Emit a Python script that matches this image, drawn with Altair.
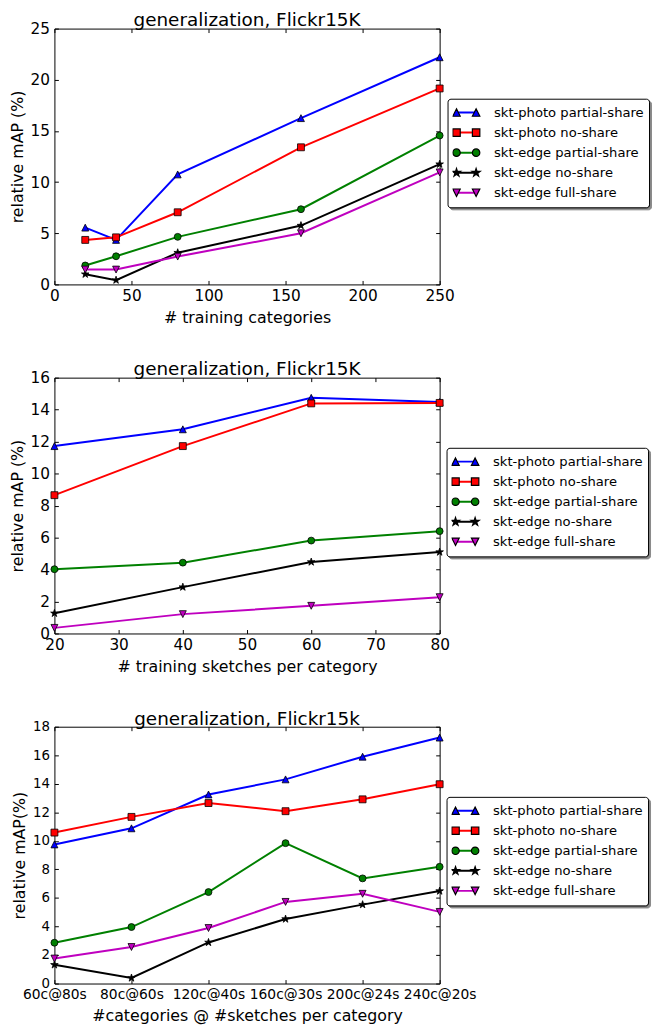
import altair as alt
import pandas as pd

FONT = "DejaVu Sans"

SERIES = ["skt-photo partial-share", "skt-photo no-share", "skt-edge partial-share",
          "skt-edge no-share", "skt-edge full-share"]
COLORS = ["#0000ff", "#ff0000", "#008000", "#000000", "#bf00bf"]

# ---- panel 1 ----
P1_TITLE = "generalization, Flickr15K"
P1_XTITLE = "# training categories"
P1_YTITLE = "relative mAP (%)"
P1_X = [20, 40, 80, 160, 250]
P1_XTICKS = [0, 50, 100, 150, 200, 250]
P1_YTICKS = [0, 5, 10, 15, 20, 25]
P1_PHOTO_PARTIAL = [5.55, 4.35, 10.75, 16.25, 22.2]
P1_PHOTO_NO = [4.35, 4.6, 7.05, 13.4, 19.15]
P1_EDGE_PARTIAL = [1.85, 2.75, 4.65, 7.35, 14.55]
P1_EDGE_NO = [1.0, 0.42, 3.1, 5.75, 11.75]
P1_EDGE_FULL = [1.45, 1.45, 2.72, 5.0, 10.95]

# ---- panel 2 ----
P2_TITLE = "generalization, Flickr15K"
P2_XTITLE = "# training sketches per category"
P2_YTITLE = "relative mAP (%)"
P2_X = [20, 40, 60, 80]
P2_XTICKS = [20, 30, 40, 50, 60, 70, 80]
P2_YTICKS = [0, 2, 4, 6, 8, 10, 12, 14, 16]
P2_PHOTO_PARTIAL = [11.72, 12.77, 14.74, 14.48]
P2_PHOTO_NO = [8.65, 11.72, 14.39, 14.42]
P2_EDGE_PARTIAL = [4.02, 4.43, 5.81, 6.40]
P2_EDGE_NO = [1.26, 2.90, 4.47, 5.09]
P2_EDGE_FULL = [0.35, 1.21, 1.73, 2.27]

# ---- panel 3 ----
P3_TITLE = "generalization, Flickr15k"
P3_XTITLE = "#categories @ #sketches per category"
P3_YTITLE = "relative mAP(%)"
P3_X = ["60c@80s", "80c@60s", "120c@40s", "160c@30s", "200c@24s", "240c@20s"]
P3_YTICKS = [0, 2, 4, 6, 8, 10, 12, 14, 16, 18]
P3_PHOTO_PARTIAL = [9.75, 10.88, 13.25, 14.31, 15.9, 17.24]
P3_PHOTO_NO = [10.58, 11.68, 12.65, 12.08, 12.91, 13.97]
P3_EDGE_PARTIAL = [2.86, 3.96, 6.41, 9.84, 7.37, 8.18]
P3_EDGE_NO = [1.31, 0.39, 2.88, 4.52, 5.53, 6.48]
P3_EDGE_FULL = [1.75, 2.56, 3.89, 5.72, 6.29, 5.02]

# ---- marker shapes (unit coordinates) ----
TRI_UP_PTS = [(0, -1), (1, 1), (-1, 1)]
TRI_DOWN_PTS = [(0, 1), (1, -1), (-1, -1)]
SQUARE_PTS = [(-1, -1), (1, -1), (1, 1), (-1, 1)]
STAR_PTS = [(0, -1), (0.2245, -0.309), (0.951, -0.309), (0.363, 0.118), (0.588, 0.809),
            (0, 0.382), (-0.588, 0.809), (-0.363, 0.118), (-0.951, -0.309), (-0.2245, -0.309)]


def poly(pts, dx=0.0, s=1.0):
    return "M" + "L".join(f"{dx + px * s:.4f},{py * s:.4f}" for px, py in pts) + "Z"


def circ(dx=0.0, s=1.0):
    return (f"M{dx - s:.4f},0A{s:.4f},{s:.4f} 0 1,0 {dx + s:.4f},0"
            f"A{s:.4f},{s:.4f} 0 1,0 {dx - s:.4f},0Z")


STAR_SCALE = 1.15
MARKERS = [poly(TRI_UP_PTS), poly(SQUARE_PTS), "circle", poly(STAR_PTS, 0, STAR_SCALE), poly(TRI_DOWN_PTS)]

KS = 0.38
EXTENT = "M-1.45,-0.45M1.45,0.45"


def pair(fn):
    return EXTENT + fn(-1) + fn(1)


KEY_PATHS = [
    pair(lambda d: poly(TRI_UP_PTS, d, KS)),
    pair(lambda d: poly(SQUARE_PTS, d, KS)),
    pair(lambda d: circ(d, KS)),
    pair(lambda d: poly(STAR_PTS, d, KS * STAR_SCALE)),
    pair(lambda d: poly(TRI_DOWN_PTS, d, KS)),
]
LINE_KEY = EXTENT + "M-1,0L1,0"

W = 390
KEY_SIZE = 394
LINE_W = 2
KEY_EDGE = 1.2


def long_table(xs, columns):
    rows = []
    for s, vals in zip(SERIES, columns):
        for i, (x, v) in enumerate(zip(xs, vals)):
            rows.append({"x": x, "y": v, "series": s, "idx": i})
    return pd.DataFrame(rows)


def panel(df, ordinal, xticks, xdomain, yticks, title, xtitle, ytitle, xlab, ylab, lx, ly, H):
    if ordinal:
        xfield = "x:O"
        xscale = alt.Scale(type="point", padding=0, domain=xticks)
    else:
        xfield = "x:Q"
        xscale = alt.Scale(domain=xdomain, nice=False, zero=False)
    yscale = alt.Scale(domain=[yticks[0], yticks[-1]], nice=False, zero=False)

    x_lab = alt.Axis(orient="bottom", values=xticks, title=xtitle, ticks=False, tickSize=0,
                     domain=False, grid=False, labelFlush=False, labelPadding=4.5,
                     labelFontSize=xlab, titleFontSize=16, titlePadding=6, labelAngle=0,
                     labelOverlap=False)
    y_lab = alt.Axis(orient="left", values=yticks, title=ytitle, ticks=False, tickSize=0,
                     domain=False, grid=False, labelPadding=5, labelFontSize=ylab,
                     titleFontSize=16, titlePadding=5, labelFlush=False)
    tk = dict(labels=False, domain=False, grid=False, ticks=True, tickSize=4,
              tickColor="black", tickWidth=1, title=None)
    x_in_b = alt.Axis(orient="top", offset=-H, values=xticks, **tk)
    x_in_t = alt.Axis(orient="bottom", offset=-H, values=xticks, **tk)
    y_in_l = alt.Axis(orient="right", offset=-W, values=yticks, **tk)
    y_in_r = alt.Axis(orient="left", offset=-W, values=yticks, **tk)

    common = dict(orient="none", title=None, symbolSize=KEY_SIZE,
                  labelFont=FONT, labelFontSize=13.3, labelOffset=17, clipHeight=18,
                  rowPadding=2.3, padding=5, labelLimit=400, symbolOffset=3, cornerRadius=3)
    shadow_leg = alt.Legend(legendX=lx + 2, legendY=ly + 2, fillColor="#8a8a8a",
                            strokeColor="#8a8a8a", symbolOpacity=0, symbolStrokeWidth=KEY_EDGE,
                            labelColor="transparent", **common)
    line_leg = alt.Legend(legendX=lx, legendY=ly, symbolType=LINE_KEY, symbolStrokeWidth=LINE_W,
                          fillColor="white", labelColor="transparent", **common)
    mark_leg = alt.Legend(legendX=lx, legendY=ly, strokeColor="black", symbolStrokeColor="black",
                          symbolStrokeWidth=KEY_EDGE, labelColor="black", **common)

    cscale = alt.Scale(domain=SERIES, range=COLORS)
    base = alt.Chart(df)
    shadow = base.transform_filter("false").mark_point(
        filled=True, size=49, opacity=0, strokeWidth=KEY_EDGE).encode(
        shape=alt.Shape("series:N", scale=alt.Scale(domain=SERIES, range=KEY_PATHS), legend=shadow_leg),
    )
    lines = base.mark_line(strokeWidth=LINE_W).encode(
        x=alt.X(xfield, scale=xscale, axis=x_lab),
        y=alt.Y("y:Q", scale=yscale, axis=y_lab),
        color=alt.Color("series:N", scale=cscale, legend=line_leg),
        order=alt.Order("idx:Q"),
    )
    pts = base.mark_point(filled=True, size=49, opacity=1, stroke="black", strokeWidth=0.8).encode(
        x=alt.X(xfield, scale=xscale, axis=x_in_b),
        y=alt.Y("y:Q", scale=yscale, axis=y_in_l),
        color=alt.Color("series:N", scale=cscale, legend=None),
        shape=alt.Shape("series:N", scale=alt.Scale(domain=SERIES, range=MARKERS), legend=None),
    )
    keys = base.transform_filter("false").mark_point(
        filled=True, size=49, opacity=1, stroke="black", strokeWidth=KEY_EDGE).encode(
        x=alt.X(xfield, scale=xscale, axis=x_in_t),
        y=alt.Y("y:Q", scale=yscale, axis=y_in_r),
        color=alt.Color("series:N", scale=cscale, legend=mark_leg),
        shape=alt.Shape("series:N", scale=alt.Scale(domain=SERIES, range=KEY_PATHS), legend=mark_leg),
    )
    return (alt.layer(shadow, lines, pts, keys)
            .resolve_scale(color="independent", shape="independent")
            .resolve_axis(x="independent", y="independent")
            .resolve_legend(color="independent", shape="independent")
            .properties(width=W, height=H,
                        title=alt.TitleParams(text=title, font=FONT, fontSize=18.6,
                                              fontWeight="normal", color="black",
                                              anchor="middle", frame="group", offset=-23.4,
                                              baseline="alphabetic")))


df1 = long_table(P1_X, [P1_PHOTO_PARTIAL, P1_PHOTO_NO, P1_EDGE_PARTIAL, P1_EDGE_NO, P1_EDGE_FULL])
df2 = long_table(P2_X, [P2_PHOTO_PARTIAL, P2_PHOTO_NO, P2_EDGE_PARTIAL, P2_EDGE_NO, P2_EDGE_FULL])
df3 = long_table(P3_X, [P3_PHOTO_PARTIAL, P3_PHOTO_NO, P3_EDGE_PARTIAL, P3_EDGE_NO, P3_EDGE_FULL])

p1 = panel(df1, False, P1_XTICKS, [0, 250], P1_YTICKS, P1_TITLE, P1_XTITLE, P1_YTITLE,
           15.5, 15.5, 398, 71, 259)
p2 = panel(df2, False, P2_XTICKS, [20, 80], P2_YTICKS, P2_TITLE, P2_XTITLE, P2_YTITLE,
           15.5, 15.5, 397, 71, 259)
p3 = panel(df3, True, P3_X, None, P3_YTICKS, P3_TITLE, P3_XTITLE, P3_YTITLE,
           14, 13.5, 397, 71, 260)

chart = (alt.vconcat(p1, p2, p3, spacing=33.4)
         .properties(padding={"left": 0, "top": -3.5, "right": 0, "bottom": 0})
         .configure_view(stroke="black", strokeWidth=1)
         .configure_axis(labelFont=FONT, titleFont=FONT, labelColor="black",
                         titleColor="black", titleFontWeight="normal"))

chart.save("out.html", embed_options={"renderer": "svg", "actions": False})
